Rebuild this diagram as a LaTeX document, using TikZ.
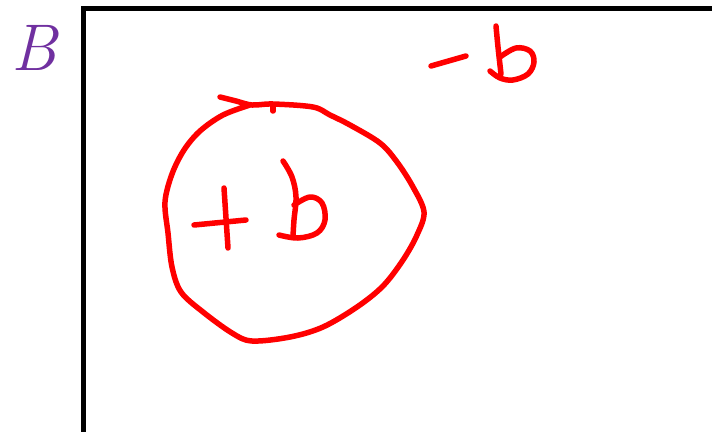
\documentclass[tikz,border=0pt]{standalone}
\usetikzlibrary{calc}
\definecolor{bpurple}{HTML}{7030A0}
\tikzset{
  ink/.style={draw=red, line width=5.5pt, line cap=round, line join=round},
  frame/.style={draw=black, line width=5pt, line cap=butt},
  label/.style={text=bpurple, font=\fontsize{66}{66}\selectfont\itshape, inner sep=0pt}
}
\begin{document}
\begin{tikzpicture}[x=1pt, y=-1pt]
\useasboundingbox (0,0) rectangle (712,431);
\fill[white] (0,0) rectangle (712,431);
% frame
\coordinate (fl) at (83,440);
\coordinate (fc) at (83,8.5);
\coordinate (fr) at (720,8.5);
\draw[frame] (fl) -- (fc) -- (fr);
% label
\node[label, anchor=base] (B) at (34,70) {B};
% circle
\draw[ink] plot[smooth, tension=0.55] coordinates {
 (220,97) (236,101) (252,105) (273,104) (313,107) (330,115) (350,125) (380,143)
 (397,162) (413,187) (424,212) (417,235) (403,260) (383,286) (357,307)
 (323,327) (290,337) (252,341) (232,333) (203,312) (181,292) (172,267)
 (168,233) (165,202) (172,174) (184,150) (200,131) (223,115) (250,105)};
\draw[ink] (273,105) -- (273,111);
% +b
\draw[ink] (194,225) -- (246,220);
\draw[ink] (224,188) -- (228,248);
\draw[ink] plot[smooth, tension=0.6] coordinates {
 (283,161) (292,177) (296,197) (294,220) (293,236)};
\draw[ink] plot[smooth, tension=0.6] coordinates {
 (294,205) (310,197) (322,203) (325,220) (317,233) (298,238) (279,235)};
% -b
\draw[ink] (431,66) -- (466,56);
\draw[ink] plot[smooth, tension=0.6] coordinates {
 (496,26) (498,47) (501,74)};
\draw[ink] plot[smooth, tension=0.6] coordinates {
 (500,57) (516,48) (530,51) (534,62) (528,74) (513,80) (500,78) (490,71)};
\end{tikzpicture}
\end{document}
